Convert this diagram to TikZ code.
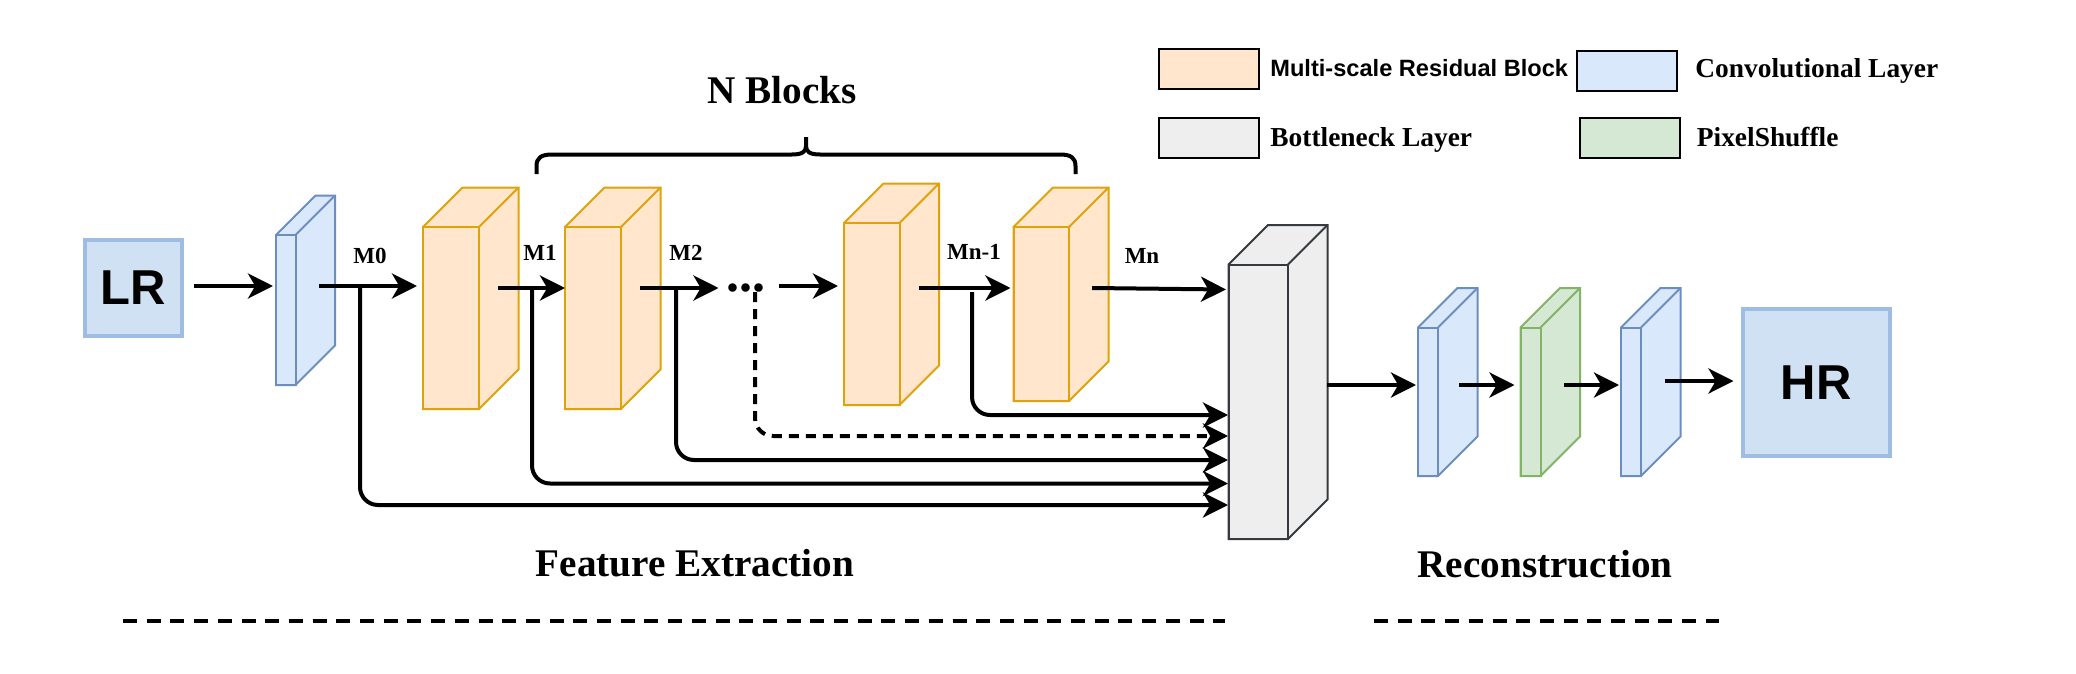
\documentclass[tikz,border=0pt]{standalone}
\usepackage{fontspec}
\setmainfont{Liberation Serif}
\setsansfont{Liberation Sans}
\usetikzlibrary{arrows.meta}
\definecolor{ofill}{HTML}{FFE6CC}\definecolor{ostroke}{HTML}{DFA208}
\definecolor{bfill}{HTML}{DAE8FC}\definecolor{bstroke}{HTML}{6C8EBF}
\definecolor{gfill}{HTML}{D5E8D4}\definecolor{gstroke}{HTML}{82B366}
\definecolor{kfill}{HTML}{EEEEEE}\definecolor{kstroke}{HTML}{36393D}
\definecolor{ifill}{HTML}{D0E1F3}\definecolor{istroke}{HTML}{9FBCE3}
\tikzset{
  orange/.style={fill=ofill,draw=ostroke},
  blue/.style={fill=bfill,draw=bstroke},
  green/.style={fill=gfill,draw=gstroke},
  gray/.style={fill=kfill,draw=kstroke},
  face/.style={line width=1pt,line join=miter,inner sep=0pt,outer sep=0pt,rectangle},
  imgbox/.style={rectangle,fill=ifill,draw=istroke,line width=2pt,inner sep=0pt,outer sep=0pt,
    font=\sffamily\bfseries\fontsize{24.5}{26}\selectfont,anchor=north west},
  head/.tip={Stealth[length=12.5pt,width=12.5pt,inset=3.6pt]},
  arr/.style={line width=2pt,-head},
  link/.style={line width=2pt,rounded corners=9pt,-head},
  dashlink/.style={link,dash pattern=on 5pt off 3.5pt},
  rule/.style={line width=1.8pt,dash pattern=on 7pt off 4.85pt},
  legendbox/.style={rectangle,line width=1pt,inner sep=0pt,outer sep=0pt,anchor=north west,
    minimum width=50pt,minimum height=20pt},
  legendkey/.style={legendbox,draw=black},
  title/.style={font=\bfseries\fontsize{19.6}{22}\selectfont,inner sep=0pt},
  mlabel/.style={font=\bfseries\fontsize{11.5}{13}\selectfont,inner sep=0pt},
  legserif/.style={font=\bfseries\fontsize{13.7}{16}\selectfont,inner sep=0pt,anchor=base west},
  legsans/.style={font=\sffamily\bfseries\fontsize{11.8}{14}\selectfont,inner sep=0pt,anchor=base west},
}
% name, left x, top y of front face, width, height, depth, style
\newcommand{\cuboid}[7]{%
  \path[face,#7] (#2,#3) -- ++(#6,-#6) -- ++(#4,0) -- ++(0,#5) -- ++(-#6,#6) -- ++(-#4,0) -- cycle;
  \node[face,#7,anchor=north west,minimum width=#4*0.5pt,minimum height=#5*0.5pt] (#1) at (#2,#3) {};
  \path[face,#7,fill=none] (#2,#3) ++(#4,0) -- ++(#6,-#6);
}
\begin{document}
\begin{tikzpicture}[x=0.5pt,y=-0.5pt]
\useasboundingbox (0,0) rectangle (2076,674);
% image boxes
\node[imgbox,minimum width=48.5pt,minimum height=48pt] (lr) at (85,240) {LR};
\node[imgbox,minimum width=73.5pt,minimum height=73.5pt] (hr) at (1742.5,309) {HR};
% cuboids
\cuboid{conv1}{276}{235}{19.5}{150}{39.5}{blue}
\cuboid{b1}{423}{227}{56}{182}{39.5}{orange}
\cuboid{b2}{565}{227}{56}{182}{39.5}{orange}
\cuboid{b3}{844}{223}{55.5}{182}{39.5}{orange}
\cuboid{b4}{1013.5}{227}{55.5}{174}{39.5}{orange}
\cuboid{bn}{1228.5}{264.5}{59.5}{274.5}{39.5}{gray}
\cuboid{conv2}{1418}{327.5}{20}{148.5}{39.5}{blue}
\cuboid{ps}{1520.5}{327.5}{20}{148.5}{39.5}{green}
\cuboid{conv3}{1621}{327.5}{20}{148.5}{39.5}{blue}
% free ends
\coordinate (a0) at (194,286);
\coordinate (a1) at (319,286);
\coordinate (a2) at (498,288);
\coordinate (a3) at (640,288);
\coordinate (a4) at (779,286);
\coordinate (a5) at (919,288);
\coordinate (a6) at (1092,288);
\coordinate (a6e) at (1226,289.5);
\coordinate (a7) at (1327,385);
\coordinate (a8) at (1459,385);
\coordinate (a9) at (1564,385);
\coordinate (a10) at (1665,381);
\coordinate (dotsend) at (718.5,288);
\coordinate (j0) at (360,286);
\coordinate (j1) at (532,288);
\coordinate (j2) at (676,288);
\coordinate (j3) at (755,292);
\coordinate (j4) at (972,292);
\coordinate (e0) at (1228,505);
\coordinate (e1) at (1228,483.5);
\coordinate (e2) at (1228,460);
\coordinate (e3) at (1228,436);
\coordinate (e4) at (1228,415);
% straight arrows
\draw[arr,shorten >=1.5pt] (a0) -- (conv1.west |- a0);
\draw[arr,shorten >=3pt] (a1) -- (b1.west |- a1);
\draw[arr] (a2) -- (b2.west |- a2);
\draw[arr] (a3) -- (dotsend);
\draw[arr,shorten >=3pt] (a4) -- (b3.west |- a4);
\draw[arr,shorten >=1.5pt] (a5) -- (b4.west |- a5);
\draw[arr] (a6) -- (a6e);
\draw[arr,shorten >=1pt] (a7) -- (conv2.west |- a7);
\draw[arr,shorten >=3pt] (a8) -- (ps.west |- a8);
\draw[arr,shorten >=1pt] (a9) -- (conv3.west |- a9);
\draw[arr,shorten >=4.5pt] (a10) -- (hr.west |- a10);
% skip links
\draw[link] (j0) -- (j0 |- e0) -- (e0);
\draw[link] (j1) -- (j1 |- e1) -- (e1);
\draw[link] (j2) -- (j2 |- e2) -- (e2);
\draw[dashlink] (j3) -- (j3 |- e3) -- (e3);
\draw[link] (j4) -- (j4 |- e4) -- (e4);
% dots
\node[font=\bfseries\fontsize{26}{28}\selectfont,inner sep=0pt,anchor=base] (dots) at (745.5,291) {...};
% brace
\draw[line width=2pt] (536.5,174) -- (536.5,166) .. controls (536.5,158) and (541,154.5) .. (552,154.5)
  -- (792,154.5) .. controls (802,154.5) and (806,152) .. (806,146) -- (806,137)
  (806,146) .. controls (806,152) and (810,154.5) .. (820,154.5)
  -- (1060,154.5) .. controls (1071,154.5) and (1075.5,158) .. (1075.5,166) -- (1075.5,174);
% labels
\node[title] (tn) at (782,90) {N Blocks};
\node[title] (tf) at (695,563) {Feature Extraction};
\node[title] (tr) at (1545,564) {Reconstruction};
\node[mlabel] (m0) at (370,256) {M0};
\node[mlabel] (m1) at (540,253) {M1};
\node[mlabel] (m2) at (686,253) {M2};
\node[mlabel] (mn1) at (974,252) {Mn-1};
\node[mlabel] (mn) at (1142,256) {Mn};
% rules
\coordinate (r0) at (123,621); \coordinate (r1) at (1225,621);
\coordinate (r2) at (1374,621); \coordinate (r3) at (1719,621);
\draw[rule] (r0) -- (r1);
\draw[rule] (r2) -- (r3);
% legend
\node[legendkey,fill=ofill] (k1) at (1159,49) {};
\node[legendkey,fill=bfill] (k2) at (1577,51) {};
\node[legendkey,fill=kfill] (k3) at (1159,118) {};
\node[legendkey,fill=gfill] (k4) at (1580,118) {};
\node[legsans] (l1) at (1270,77) {Multi-scale Residual Block};
\node[legserif] (l2) at (1695,78) {Convolutional Layer};
\node[legserif] (l3) at (1270,147) {Bottleneck Layer};
\node[legserif] (l4) at (1696.5,147) {PixelShuffle};
\end{tikzpicture}
\end{document}
